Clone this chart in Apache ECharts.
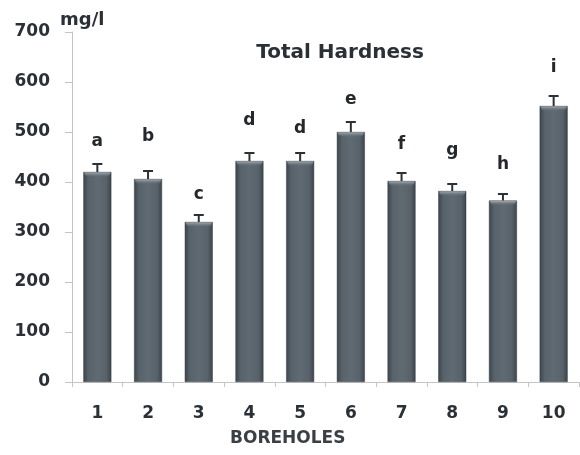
<!DOCTYPE html>
<html>
<head>
<meta charset="utf-8">
<script src="https://cdn.jsdelivr.net/npm/echarts@6/dist/echarts.min.js"></script>
<style>
  html, body { margin: 0; padding: 0; background: #ffffff; }
  #chart { width: 580px; height: 455px; }
</style>
</head>
<body>
<div id="chart"></div>
<script>
// Total hardness per borehole (mg/l)
const boreholes = ['1', '2', '3', '4', '5', '6', '7', '8', '9', '10'];
const hardness = [420, 406, 320, 442, 442, 500, 402, 382, 363, 552];
const hardnessErr = [16, 16, 14, 16, 16, 20, 16, 14, 13, 20];
// significance group letters and the level each is written at (mg/l)
const groupLetters = ['a', 'b', 'c', 'd', 'd', 'e', 'f', 'g', 'h', 'i'];
const letterLevel = [480, 490, 374, 522, 506, 564, 474, 462, 434, 628];
const yTicks = { min: 0, max: 700, step: 100 };

const FONT = 'DejaVu Sans';
const chart = echarts.init(document.getElementById('chart'), null, { renderer: 'canvas' });

const barFill = new echarts.graphic.LinearGradient(0, 0, 1, 0, [
  { offset: 0, color: '#3c444b' },
  { offset: 0.18, color: '#58626a' },
  { offset: 0.5, color: '#606a72' },
  { offset: 0.82, color: '#58626a' },
  { offset: 1, color: '#3c444b' }
]);

chart.setOption({
  animation: false,
  backgroundColor: '#ffffff',
  title: {
    text: 'Total Hardness',
    left: 335,
    top: 38,
    textAlign: 'center',
    textStyle: { fontFamily: FONT, fontWeight: 'bold', fontSize: 20, color: '#2b2f36' }
  },
  grid: { left: 72, right: 1, top: 32, bottom: 73 },
  graphic: [
    {
      type: 'text', left: 60, top: 11,
      style: { text: 'mg/l', fontFamily: FONT, fontWeight: 'bold', fontSize: 18, fill: '#2b2f36' }
    },
    {
      type: 'text', left: 230, top: 430,
      style: { text: 'BOREHOLES', fontFamily: FONT, fontWeight: 'bold', fontSize: 17, fill: '#3a3f45' }
    }
  ],
  xAxis: {
    type: 'category',
    data: boreholes,
    axisLine: { lineStyle: { color: '#c4c4c4', width: 1 } },
    axisTick: { show: true, length: 5, lineStyle: { color: '#c4c4c4' } },
    axisLabel: { margin: 23, fontFamily: FONT, fontWeight: 'bold', fontSize: 17, color: '#2b2f36' },
    splitLine: { show: false }
  },
  yAxis: {
    type: 'value',
    min: yTicks.min,
    max: yTicks.max,
    interval: yTicks.step,
    axisLine: { show: true, lineStyle: { color: '#c4c4c4', width: 1 } },
    axisTick: { show: true, length: 7, lineStyle: { color: '#c4c4c4' } },
    axisLabel: { margin: 22, fontFamily: FONT, fontWeight: 'bold', fontSize: 17, color: '#2b2f36' },
    splitLine: { show: false }
  },
  series: [
    {
      type: 'bar',
      data: hardness,
      barWidth: 28,
      itemStyle: { color: barFill, borderColor: '#3a4147', borderWidth: 0.5 },
      z: 2
    },
    {
      // light cap along the top of each bar
      type: 'custom',
      data: hardness.map((v, i) => [i, v]),
      renderItem: function (params, api) {
        const p = api.coord([api.value(0), api.value(1)]);
        return {
          type: 'rect',
          shape: { x: p[0] - 13, y: p[1] + 0.5, width: 26, height: 5, r: [0, 0, 5, 5] },
          style: {
            fill: new echarts.graphic.LinearGradient(0, 0, 0, 1, [
              { offset: 0, color: '#a3aaaf' },
              { offset: 1, color: 'rgba(95,105,113,0)' }
            ])
          }
        };
      },
      z: 3
    },
    {
      // upper error whiskers
      type: 'custom',
      data: hardness.map((v, i) => [i, v, v + hardnessErr[i]]),
      renderItem: function (params, api) {
        const lo = api.coord([api.value(0), api.value(1)]);
        const hi = api.coord([api.value(0), api.value(2)]);
        const st = { stroke: '#2c3136', lineWidth: 2 };
        return {
          type: 'group',
          children: [
            { type: 'line', shape: { x1: lo[0], y1: lo[1], x2: hi[0], y2: hi[1] }, style: st },
            { type: 'line', shape: { x1: hi[0] - 5, y1: hi[1], x2: hi[0] + 5, y2: hi[1] }, style: st }
          ]
        };
      },
      z: 4
    },
    {
      // group letters
      type: 'custom',
      data: letterLevel.map((v, i) => [i, v]),
      renderItem: function (params, api) {
        const p = api.coord([api.value(0), api.value(1)]);
        return {
          type: 'text',
          style: {
            text: groupLetters[params.dataIndex],
            x: p[0], y: p[1],
            align: 'center', verticalAlign: 'middle',
            fontFamily: FONT, fontWeight: 'bold', fontSize: 17, fill: '#24282d'
          }
        };
      },
      z: 5
    }
  ]
});
</script>
</body>
</html>
